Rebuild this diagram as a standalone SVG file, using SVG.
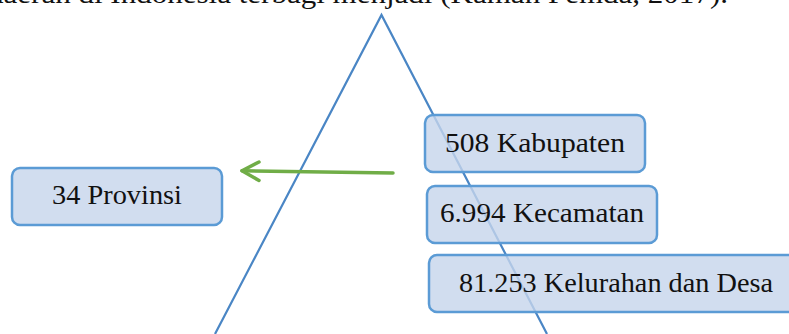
<svg xmlns="http://www.w3.org/2000/svg" width="789" height="334" viewBox="0 0 789 334">
<style>
.box{fill:#C6D5EB;fill-opacity:0.8;stroke:#5B9BD5;stroke-width:2.5}
.lbl{font-family:"Liberation Serif","DejaVu Serif",serif;font-size:27px;fill:#111}
.tri{fill:none;stroke:#4A86C5;stroke-width:2.2}
.arr{fill:none;stroke:#70AD47;stroke-width:3.5;stroke-linecap:round;stroke-linejoin:round}
</style>
<rect width="789" height="334" fill="#fff"/>
<text class="lbl" x="-12" y="3" textLength="740" lengthAdjust="spacingAndGlyphs">daerah di Indonesia terbagi menjadi (Kaman Pemda, 2017).</text>
<g id="triangle">
<polyline class="tri" points="215,334 381.5,15 547,334"/>
</g>
<g id="connectors">
<path class="arr" d="M393,173 L242,170.7"/>
<path class="arr" d="M259,162 L242,170.7 L259,180.5"/>
</g>
<g id="provinsi">
<rect class="box" x="12" y="168" width="210" height="57" rx="8"/>
<text class="lbl" x="52" y="204" textLength="130" lengthAdjust="spacingAndGlyphs">34 Provinsi</text>
</g>
<g id="kabupaten">
<rect class="box" x="425" y="115" width="220" height="57" rx="8"/>
<text class="lbl" x="445" y="152" textLength="180" lengthAdjust="spacingAndGlyphs">508 Kabupaten</text>
</g>
<g id="kecamatan">
<rect class="box" x="427" y="186" width="230" height="57" rx="8"/>
<text class="lbl" x="440" y="222" textLength="204" lengthAdjust="spacingAndGlyphs">6.994 Kecamatan</text>
</g>
<g id="kelurahan">
<rect class="box" x="429" y="255" width="370" height="57" rx="8"/>
<text class="lbl" x="459" y="292" textLength="314" lengthAdjust="spacingAndGlyphs">81.253 Kelurahan dan Desa</text>
</g>
</svg>
